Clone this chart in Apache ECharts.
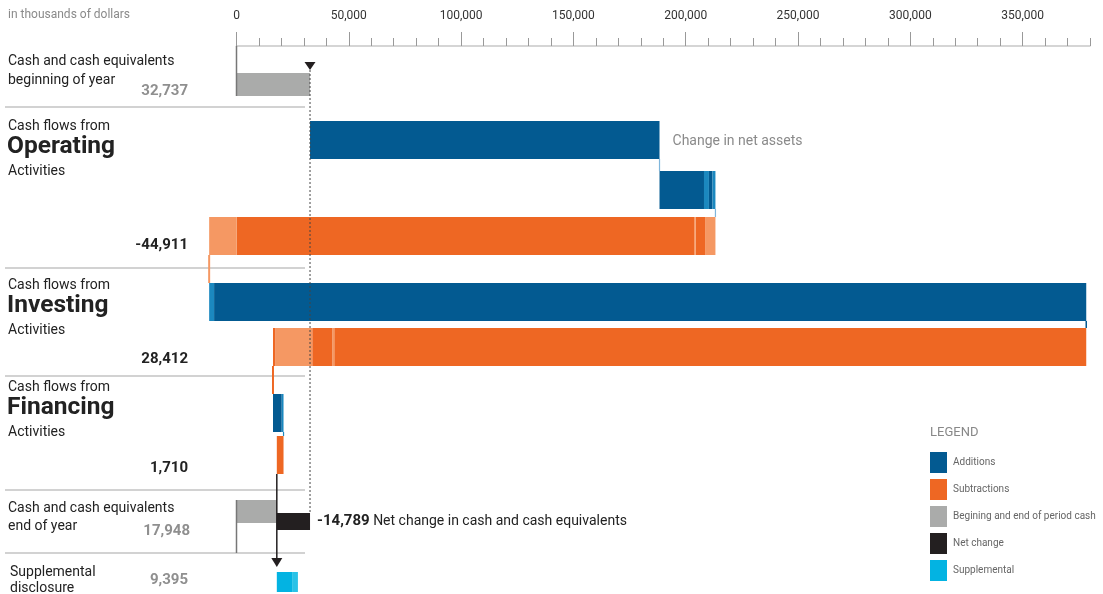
<!DOCTYPE html>
<html><head><meta charset="utf-8">
<script src="https://cdn.jsdelivr.net/npm/echarts@6/dist/echarts.min.js"></script>
<style>html,body{margin:0;padding:0;background:#fff}#c{width:1103px;height:594px}</style>
</head><body><div id="c"></div>
<script>
// ---------- DATA (in thousands of dollars) ----------
const axisTickValues = [0, 50000, 100000, 150000, 200000, 250000, 300000, 350000];
const axisMax = 380000;
const beginCash = 32737;
const opNetAssets = [155600];                       // Change in net assets
const opOtherAdditions = [19800, 2200, 1600, 1300];
const opSubtractions = [4600, 4200, 700, 203700, 12211];
const opNet = -44911;
const invAdditions = [2200, 388300];
const invSubtractions = [334800, 900, 8900, 16500, 988];
const invNet = 28412;
const finAdditions = [3900, 800];
const finSubtractions = [2990];
const finNet = 1710;
const endCash = 17948;
const netChange = -14789;
const supplemental = [6800, 2595];
const supplementalTotal = 9395;
const legendNames = ['Additions', 'Subtractions', 'Begining and end of period cash', 'Net change', 'Supplemental'];

// ---------- STYLE / LAYOUT ----------
const C = {
  blue: '#035a91', blueL: '#1b88bf', orange: '#ee6723', orangeL: '#f59863',
  gray: '#aaabaa', black: '#231f20', cyan: '#03b3e2', cyanL: '#2ac2e7'
};
const legendColors = [C.blue, C.orange, C.gray, C.black, C.cyan];
const tones = {
  opNetAssets: ['blue'],
  opOtherAdditions: ['blue', 'blueL', 'blue', 'blueL'],
  opSubtractions: ['orangeL', 'orange', 'orangeL', 'orange', 'orangeL'],
  invAdditions: ['blueL', 'blue'],
  invSubtractions: ['orange', 'orangeL', 'orange', 'orangeL', 'orange'],
  finAdditions: ['blue', 'blueL'],
  finSubtractions: ['orange'],
  supplemental: ['cyan', 'cyanL']
};
const rows = {
  begin: [73, 96], opA: [121, 159], opB: [171, 209], opS: [217, 255],
  invA: [283, 321], invS: [328, 366], finA: [394, 432], finS: [436, 474],
  endG: [500, 523], endN: [513, 530], supp: [572, 592]
};
const FONT = 'Roboto';

// ---------- BUILD MARKS ----------
const rects = [], rectColors = [];
function addRect(a, b, row, color) { rects.push([a, b, rows[row][0], rows[row][1]]); rectColors.push(color); }
function run(start, values, dir, row, toneList) {
  let cur = start;
  values.forEach((v, i) => { const nx = cur + dir * v; addRect(cur, nx, row, C[toneList[i]]); cur = nx; });
  return cur;
}
addRect(0, beginCash, 'begin', C.gray);
const p1 = run(beginCash, opNetAssets, 1, 'opA', tones.opNetAssets);
const p2 = run(p1, opOtherAdditions, 1, 'opB', tones.opOtherAdditions);
const p3 = run(p2, opSubtractions, -1, 'opS', tones.opSubtractions);
const p4 = run(p3, invAdditions, 1, 'invA', tones.invAdditions);
const p5 = run(p4, invSubtractions, -1, 'invS', tones.invSubtractions);
const p6 = run(p5, finAdditions, 1, 'finA', tones.finAdditions);
const p7 = run(p6, finSubtractions, -1, 'finS', tones.finSubtractions);
addRect(0, endCash, 'endG', C.gray);
addRect(endCash, endCash - netChange, 'endN', C.black);
run(endCash, supplemental, 1, 'supp', tones.supplemental);

// connectors: [x, y0, y1], styles separately
const lines = [], lineStyles = [];
function addLine(x, y0, y1, st) { lines.push([x, y0, y1]); lineStyles.push(st); }
addLine(0, 46, 96, {stroke: '#777', lineWidth: 1.5});
addLine(beginCash, 70, 513, {stroke: '#444', lineWidth: 1, lineDash: [2, 2]});
addLine(p1, 159, 171, {stroke: '#7fb6dc', lineWidth: 1.2});
addLine(p2, 209, 217, {stroke: '#7fb6dc', lineWidth: 1.2});
addLine(p3, 255, 283, {stroke: C.orangeL, lineWidth: 2});
addLine(p4, 321, 328, {stroke: C.blue, lineWidth: 1.5});
addLine(p5, 366, 394, {stroke: C.orange, lineWidth: 2});
addLine(p6, 432, 436, {stroke: C.blueL, lineWidth: 1.2});
addLine(p7, 474, 560, {stroke: C.black, lineWidth: 1.5});
addLine(0, 500, 553, {stroke: '#777', lineWidth: 1.5});

const triangles = [[beginCash, 62, 70], [endCash, 558, 567]];

const fmt = v => v.toLocaleString('en-US');

// ---------- LEFT COLUMN TEXT ----------
const graphics = [];
function txt(x, y, s, size, opt) {
  graphics.push({type: 'text', x: x, y: y, silent: true,
    style: Object.assign({text: s, fontFamily: FONT, fontSize: size, fill: '#222', verticalAlign: 'middle', align: 'left'}, opt || {})});
}
txt(8, 15, 'in thousands of dollars', 12, {fill: '#8a8a8a'});
txt(8, 61, 'Cash and cash equivalents', 14);
txt(8, 80, 'beginning of year', 14);
txt(188, 91, fmt(beginCash), 15, {fill: '#8f8f8f', fontWeight: 'bold', align: 'right'});
[[126, 'Operating', opNet, 245], [285, 'Investing', invNet, 359], [387, 'Financing', finNet, 468]].forEach(s => {
  const y = s[0];
  txt(8, y, 'Cash flows from', 14);
  txt(7, y + 21, s[1], 24.5, {fontWeight: 'bold'});
  txt(8, y + 45, 'Activities', 14);
  txt(188, s[3], fmt(s[2]), 15, {fontWeight: 'bold', align: 'right'});
});
txt(8, 508, 'Cash and cash equivalents', 14);
txt(8, 526, 'end of year', 14);
txt(190, 531, fmt(endCash), 15, {fill: '#8f8f8f', fontWeight: 'bold', align: 'right'});
txt(10, 572, 'Supplemental', 14);
txt(10, 588, 'disclosure', 14);
txt(188, 580, fmt(supplementalTotal), 15, {fill: '#8f8f8f', fontWeight: 'bold', align: 'right'});
[107, 268, 376, 490, 553].forEach(y => graphics.push({type: 'line', silent: true,
  shape: {x1: 5, y1: y, x2: 305, y2: y}, style: {stroke: '#d2d2d2', lineWidth: 2}}));
txt(930, 433, 'LEGEND', 13, {fill: '#888'});

// ---------- CHART ----------
const chart = echarts.init(document.getElementById('c'));
const axisCommon = {type: 'value', min: 0, max: axisMax, position: 'top', splitLine: {show: false}};
chart.setOption({
  animation: false,
  textStyle: {fontFamily: FONT},
  grid: {left: 236.5, right: 13, top: 46, bottom: 0},
  xAxis: [
    Object.assign({}, axisCommon, {interval: 10000,
      axisLine: {show: true, lineStyle: {color: '#c8c8c8', width: 1.5}},
      axisTick: {show: true, length: 8, lineStyle: {color: '#999', width: 1}},
      axisLabel: {show: false}}),
    Object.assign({}, axisCommon, {interval: 50000,
      axisLine: {show: false},
      axisTick: {show: true, length: 14, customValues: axisTickValues, lineStyle: {color: '#999', width: 1}},
      axisLabel: {show: true, customValues: axisTickValues, margin: 24, color: '#333', fontSize: 12, fontFamily: FONT,
        formatter: v => (v % 50000 === 0 && v <= 350000) ? fmt(v) : ''}})
  ],
  yAxis: {type: 'value', min: 46, max: 594, inverse: true, show: false},
  legend: {orient: 'vertical', left: 930, top: 452, padding: 0, itemWidth: 17, itemHeight: 21, itemGap: 6, icon: 'rect',
    selectedMode: false, data: legendNames,
    textStyle: {color: '#666', fontSize: 10, fontFamily: FONT, padding: [0, 0, 0, 1]}},
  graphic: graphics,
  series: [
    {type: 'custom', name: 'bars', xAxisIndex: 0, data: rects, clip: false, silent: true,
      renderItem: (params, api) => {
        const a = api.coord([api.value(0), api.value(2)]);
        const b = api.coord([api.value(1), api.value(3)]);
        return {type: 'rect', shape: {x: Math.min(a[0], b[0]), y: a[1], width: Math.abs(b[0] - a[0]), height: b[1] - a[1]},
          style: {fill: rectColors[params.dataIndex]}};
      }},
    {type: 'custom', name: 'connectors', xAxisIndex: 0, data: lines, clip: false, silent: true, z: 3,
      renderItem: (params, api) => {
        const a = api.coord([api.value(0), api.value(1)]);
        const b = api.coord([api.value(0), api.value(2)]);
        return {type: 'line', shape: {x1: a[0], y1: a[1], x2: b[0], y2: b[1]}, style: lineStyles[params.dataIndex]};
      }},
    {type: 'custom', name: 'arrows', xAxisIndex: 0, data: triangles, clip: false, silent: true, z: 4,
      renderItem: (params, api) => {
        const t = api.coord([api.value(0), api.value(1)]);
        const b = api.coord([api.value(0), api.value(2)]);
        return {type: 'polygon', shape: {points: [[t[0] - 5.5, t[1]], [t[0] + 5.5, t[1]], [b[0], b[1]]]}, style: {fill: '#231f20'}};
      }},
    {type: 'custom', name: 'notes', xAxisIndex: 0, data: [[p1, 141, 0], [endCash - netChange, 521, 1]], clip: false, silent: true,
      renderItem: (params, api) => {
        const p = api.coord([api.value(0), api.value(1)]);
        if (params.dataIndex === 0) {
          return {type: 'text', x: p[0] + 13, y: p[1], style: {text: 'Change in net assets', fontFamily: FONT, fontSize: 14,
            fill: '#8a8a8a', verticalAlign: 'middle'}};
        }
        return {type: 'text', x: p[0] + 7, y: p[1], style: {
          text: '{b|' + fmt(netChange) + '} Net change in cash and cash equivalents', fontFamily: FONT, fontSize: 14,
          fill: '#222', verticalAlign: 'middle',
          rich: {b: {fontWeight: 'bold', fontSize: 15, fontFamily: FONT, fill: '#222'}}}};
      }}
  ].concat(legendNames.map((n, i) => ({type: 'custom', name: n, data: [], renderItem: () => null,
    itemStyle: {color: legendColors[i]}})))
});
</script>
</body></html>
